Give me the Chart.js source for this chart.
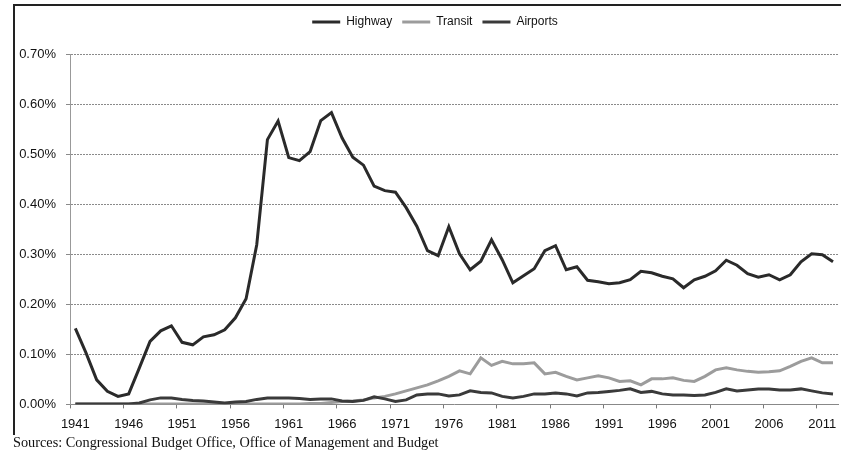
<!DOCTYPE html>
<html>
<head>
<meta charset="utf-8">
<script src="https://cdn.jsdelivr.net/npm/chart.js@4.4.1/dist/chart.umd.min.js"></script>
<style>
  html, body { margin: 0; padding: 0; background: #fff; width: 841px; height: 451px; overflow: hidden; }
  #wrap { position: absolute; left: 0; top: 0; width: 841px; height: 440px; }
  #frame { position: absolute; left: 13px; top: 4px; width: 830px; height: 429px; border-left: 2px solid #222; border-top: 2px solid #222; pointer-events: none; }
  #src { position: absolute; left: 13px; top: 434px; font-family: "Liberation Serif", "Times New Roman", serif; font-size: 14.3px; color: #111; white-space: nowrap; }
</style>
</head>
<body>
<div id="wrap"><canvas id="c" width="841" height="440"></canvas></div>
<div id="frame"></div>
<div id="src">Sources: Congressional Budget Office, Office of Management and Budget</div>
<script>
const years = [1941,1942,1943,1944,1945,1946,1947,1948,1949,1950,
  1951,1952,1953,1954,1955,1956,1957,1958,1959,1960,
  1961,1962,1963,1964,1965,1966,1967,1968,1969,1970,
  1971,1972,1973,1974,1975,1976,1977,1978,1979,1980,
  1981,1982,1983,1984,1985,1986,1987,1988,1989,1990,
  1991,1992,1993,1994,1995,1996,1997,1998,1999,2000,
  2001,2002,2003,2004,2005,2006,2007,2008,2009,2010,
  2011,2012];

const highway = [0.152,0.103,0.049,0.026,0.016,0.021,0.073,0.126,0.147,0.157,
  0.124,0.119,0.135,0.139,0.149,0.173,0.211,0.319,0.529,0.566,
  0.493,0.487,0.505,0.567,0.583,0.532,0.494,0.478,0.436,0.427,
  0.424,0.393,0.356,0.307,0.297,0.355,0.301,0.269,0.286,0.329,
  0.289,0.243,0.257,0.271,0.307,0.317,0.269,0.275,0.248,0.245,
  0.241,0.243,0.249,0.266,0.263,0.256,0.251,0.233,0.249,0.256,
  0.267,0.288,0.278,0.261,0.254,0.259,0.249,0.259,0.285,0.301,
  0.299,0.285];

const transit = [0.001,0.001,0.001,0.001,0.001,0.001,0.001,0.001,0.001,0.001,
  0.001,0.001,0.001,0.001,0.001,0.001,0.001,0.001,0.001,0.001,
  0.001,0.001,0.002,0.002,0.004,0.006,0.007,0.009,0.013,0.016,
  0.021,0.027,0.033,0.039,0.047,0.056,0.067,0.061,0.093,0.078,
  0.086,0.081,0.081,0.083,0.061,0.064,0.056,0.049,0.053,0.057,
  0.053,0.046,0.047,0.039,0.051,0.051,0.053,0.048,0.046,0.056,
  0.069,0.073,0.069,0.066,0.064,0.065,0.067,0.076,0.086,0.093,
  0.083,0.083];

const airports = [0.001,0.001,0.001,0.001,0.001,0.001,0.003,0.009,0.013,0.013,
  0.010,0.008,0.007,0.005,0.003,0.005,0.006,0.010,0.013,0.013,
  0.013,0.012,0.010,0.011,0.011,0.007,0.006,0.008,0.015,0.011,
  0.006,0.009,0.019,0.021,0.021,0.017,0.019,0.027,0.024,0.023,
  0.016,0.013,0.016,0.021,0.021,0.023,0.021,0.017,0.023,0.024,
  0.026,0.028,0.031,0.024,0.026,0.021,0.019,0.019,0.018,0.019,
  0.024,0.031,0.027,0.029,0.031,0.031,0.029,0.029,0.031,0.027,
  0.023,0.021];

const seriesNames = ['Highway', 'Transit', 'Airports'];
const yTicks = [0, 0.1, 0.2, 0.3, 0.4, 0.5, 0.6, 0.7];

const FONT = '"Liberation Sans", Arial, sans-serif';

const legendTweak = {
  id: 'legendTweak',
  afterInit(chart) {
    const lg = chart.legend;
    if (lg && !lg._patched) {
      const origFit = lg.fit;
      lg.fit = function () { origFit.call(this); this.height += 16; };
      lg._patched = true;
    }
  },
  afterLayout(chart) {
    if (chart.legend) { chart.legend.left += 30; }
  }
};

new Chart(document.getElementById('c'), {
  type: 'line',
  data: {
    labels: years,
    datasets: [
      { label: seriesNames[0], data: highway, borderColor: '#2a2a2a', backgroundColor: '#2a2a2a', borderWidth: 3, pointRadius: 0, tension: 0, order: 3 },
      { label: seriesNames[1], data: transit, borderColor: '#9c9c9c', backgroundColor: '#9c9c9c', borderWidth: 3, pointRadius: 0, tension: 0, order: 2 },
      { label: seriesNames[2], data: airports, borderColor: '#3a3a3a', backgroundColor: '#3a3a3a', borderWidth: 3, pointRadius: 0, tension: 0, order: 1 }
    ]
  },
  options: {
    responsive: false,
    animation: false,
    devicePixelRatio: 1,
    layout: { padding: { left: 0, right: 1, top: 6, bottom: 0 } },
    plugins: {
      tooltip: { enabled: false },
      legend: {
        position: 'top',
        labels: {
          usePointStyle: true,
          pointStyle: 'line',
          pointStyleWidth: 28,
          padding: 10,
          color: '#111',
          font: { family: FONT, size: 12 },
          sort: (a, b) => a.datasetIndex - b.datasetIndex
        }
      }
    },
    scales: {
      x: {
        type: 'category',
        offset: true,
        grid: {
          offset: true,
          drawOnChartArea: false,
          drawTicks: true,
          tickLength: 4,
          color: (ctx) => (ctx.index % 5 === 0 ? '#777' : 'rgba(0,0,0,0)')
        },
        border: { display: true, color: '#888', width: 1 },
        ticks: {
          autoSkip: false,
          maxRotation: 0,
          minRotation: 0,
          padding: 8,
          color: '#111',
          font: { family: FONT, size: 13 },
          callback: function (value, index) {
            return index % 5 === 0 ? String(years[index]) : '';
          }
        }
      },
      y: {
        min: 0,
        max: 0.7,
        afterFit: (scale) => { scale.width = 70; },
        afterBuildTicks: (scale) => { scale.ticks = yTicks.map(v => ({ value: v })); },
        grid: {
          color: '#8a8a8a',
          lineWidth: 1,
          tickLength: 4
        },
        border: { display: true, color: '#999', dash: [2, 1] },
        ticks: {
          padding: 10,
          color: '#111',
          font: { family: FONT, size: 13 },
          callback: (v) => Number(v).toFixed(2) + '%'
        }
      }
    }
  },
  plugins: [legendTweak, {
    id: 'dashGrid',
    beforeDraw(chart) {
      chart.scales.y.options.grid.borderDash = [2, 1];
    }
  }]
});
</script>
</body>
</html>
